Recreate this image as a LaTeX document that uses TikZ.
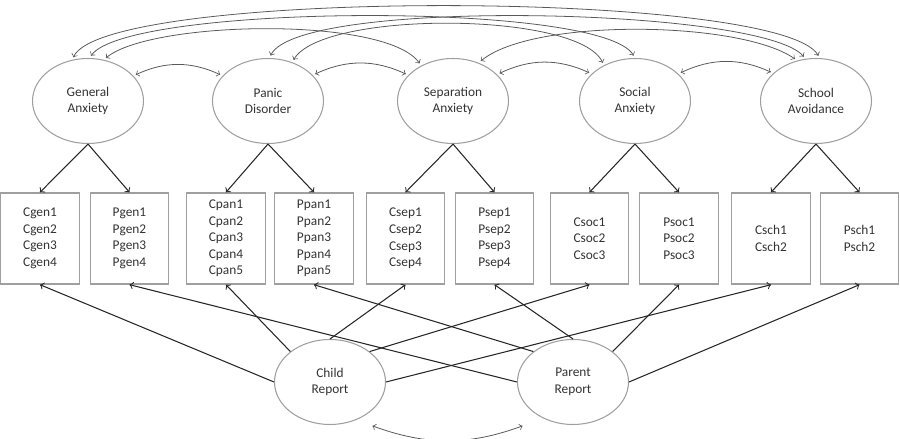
\documentclass[tikz,border=0pt]{standalone}
\usepackage{fontspec}
\setmainfont{Carlito}
\usepackage{tikz}
\usetikzlibrary{shapes.geometric}

\begin{document}
\begin{tikzpicture}[
    factor/.style={draw=gray!75, line width=0.6pt, ellipse, minimum width=2.22cm,
      minimum height=1.7cm, inner sep=0pt, align=center, text=black!80},
    itembox/.style={draw=gray!75, line width=0.8pt, minimum width=1.57cm,
      minimum height=1.82cm, inner sep=0pt, align=center, text=black!80},
    load/.style={->, draw=black!85, line width=0.6pt},
    covar/.style={<->, draw=black!65, line width=0.45pt, shorten <=1.5pt, shorten >=1.5pt},
    font=\fontsize{7.6}{9.4}\selectfont
  ]
  \useasboundingbox (0,0) rectangle (18,8.78);

  % Anxiety factors
  \node[factor] (gen) at (1.76, 6.76) {General\\Anxiety};
  \node[factor] (pan) at (5.36, 6.76) {Panic\\Disorder};
  \node[factor] (sep) at (9.06, 6.76) {Separation\\Anxiety};
  \node[factor] (soc) at (12.70, 6.76) {Social\\Anxiety};
  \node[factor] (sch) at (16.32, 6.76) {School\\Avoidance};

  % Item boxes
  \node[itembox] (cgen) at (0.80, 4.01) {Cgen1\\Cgen2\\Cgen3\\Cgen4};
  \node[itembox] (pgen) at (2.59, 4.01) {Pgen1\\Pgen2\\Pgen3\\Pgen4};
  \node[itembox] (cpan) at (4.52, 4.01) {Cpan1\\Cpan2\\Cpan3\\Cpan4\\Cpan5};
  \node[itembox] (ppan) at (6.28, 4.01) {Ppan1\\Ppan2\\Ppan3\\Ppan4\\Ppan5};
  \node[itembox] (csep) at (8.11, 4.01) {Csep1\\Csep2\\Csep3\\Csep4};
  \node[itembox] (psep) at (9.89, 4.01) {Psep1\\Psep2\\Psep3\\Psep4};
  \node[itembox] (csoc) at (11.79, 4.01) {Csoc1\\Csoc2\\Csoc3};
  \node[itembox] (psoc) at (13.58, 4.01) {Psoc1\\Psoc2\\Psoc3};
  \node[itembox] (csch) at (15.42, 4.01) {Csch1\\Csch2};
  \node[itembox] (psch) at (17.19, 4.01) {Psch1\\Psch2};

  % Informant factors
  \node[factor] (child) at (6.60, 1.14) {Child\\Report};
  \node[factor] (parent) at (11.46, 1.14) {Parent\\Report};

  % Loadings on anxiety factors
  \draw[load] (gen.south) -- (cgen.north);
  \draw[load] (gen.south) -- (pgen.north);
  \draw[load] (pan.south) -- (cpan.north);
  \draw[load] (pan.south) -- (ppan.north);
  \draw[load] (sep.south) -- (csep.north);
  \draw[load] (sep.south) -- (psep.north);
  \draw[load] (soc.south) -- (csoc.north);
  \draw[load] (soc.south) -- (psoc.north);
  \draw[load] (sch.south) -- (csch.north);
  \draw[load] (sch.south) -- (psch.north);

  % Loadings on informant factors
  \draw[load] (child.west) -- (cgen.south);
  \draw[load] (child.north west) -- (cpan.south);
  \draw[load] (child.north) -- (csep.south);
  \draw[load] (child.north east) -- (csoc.south);
  \draw[load] (child.east) -- (csch.south);
  \draw[load] (parent.west) -- (pgen.south);
  \draw[load] (parent.north west) -- (ppan.south);
  \draw[load] (parent.north) -- (psep.south);
  \draw[load] (parent.north east) -- (psoc.south);
  \draw[load] (parent.east) -- (psch.south);

  % Covariances between neighbours
  \draw[covar] (gen.29) to[bend left=25] (pan.151);
  \draw[covar] (pan.30) to[bend left=25] (sep.150);
  \draw[covar] (sep.31) to[bend left=25] (soc.148);
  \draw[covar] (soc.32) to[bend left=25] (sch.147);

  % Covariances over longer spans
  \draw[covar] (gen.69) to[out=40, in=125, looseness=0.49] (sep.132);
  \draw[covar] (gen.88) to[out=55, in=120, looseness=0.31] (soc.90);
  \draw[covar] (gen.111) to[out=65, in=120, looseness=0.27] (sch.85);
  \draw[covar] (pan.58) to[out=60, in=115, looseness=0.49] (soc.131);
  \draw[covar] (pan.88) to[out=65, in=130, looseness=0.32] (sch.104);
  \draw[covar] (sep.56) to[out=40, in=145, looseness=0.56] (sch.115);

  % Informant covariance
  \draw[covar] ([xshift=0.8cm]child.south) to[bend right=20] ([xshift=-0.96cm]parent.south);
\end{tikzpicture}
\end{document}
